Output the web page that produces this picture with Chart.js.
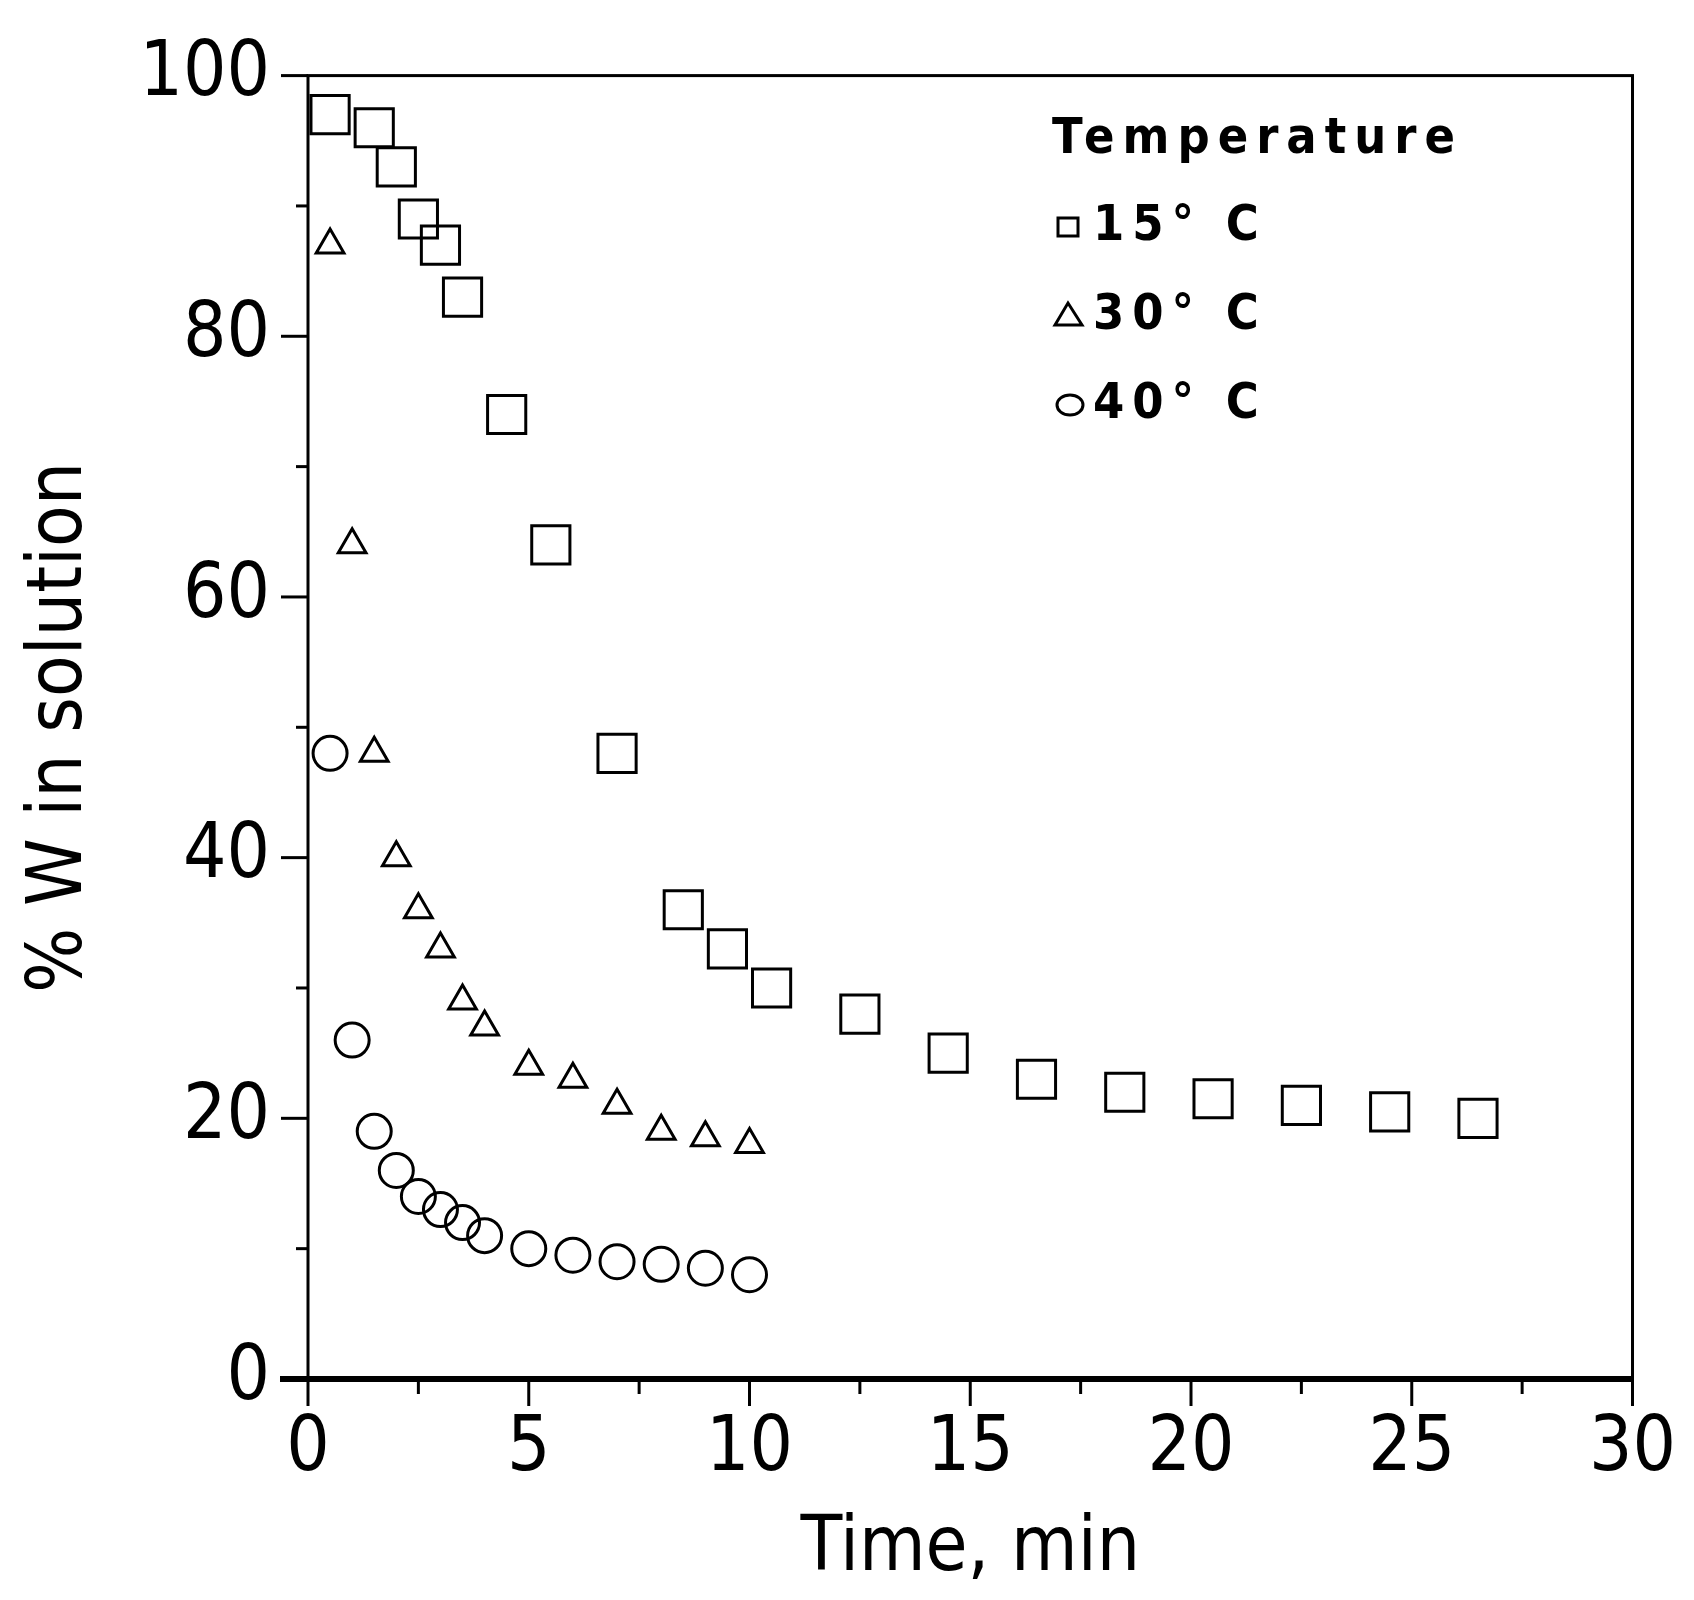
<!DOCTYPE html><html><head><style>html,body{margin:0;background:#fff}</style>
<script src="https://cdn.jsdelivr.net/npm/chart.js@4/dist/chart.umd.min.js"></script></head><body>
<canvas id="c" width="1694" height="1600" style="width:1694px;height:1600px"></canvas>
<script>
const t15=[0.5,1.5,2,2.5,3,3.5,4.5,5.5,7,8.5,9.5,10.5,12.5,14.5,16.5,18.5,20.5,22.5,24.5,26.5];
const v15=[97,96,93,89,87,83,74,64,48,36,33,30,28,25,23,22,21.5,21,20.5,20];
const t30=[0.5,1,1.5,2,2.5,3,3.5,4,5,6,7,8,9,10];
const v30=[87,64,48,40,36,33,29,27,24,23,21,19,18.5,18];
const t40=[0.5,1,1.5,2,2.5,3,3.5,4,5,6,7,8,9,10];
const v40=[48,26,19,16,14,13,12,11,10,9.5,9,8.8,8.5,8];
const xTicks=[0,5,10,15,20,25,30];
const yTicks=[0,20,40,60,80,100];
const legendTitle='Temperature';
const legendLabels=['15° C','30° C','40° C'];
const FONT='"DejaVu Sans Condensed","DejaVu Sans",sans-serif';
const pts=(t,v)=>t.map((x,i)=>({x,y:v[i]}));
const ds=(d,style,r)=>({data:d,pointStyle:style,pointRadius:r,pointBorderColor:'#000',pointBackgroundColor:'transparent',pointBorderWidth:3,showLine:false});
const deco={id:'deco',afterDraw(ch){
 const c=ch.ctx,a=ch.chartArea,xs=ch.scales.x,ys=ch.scales.y;
 c.save();c.strokeStyle='#000';c.lineWidth=3;
 c.strokeRect(a.left,a.top,a.right-a.left,a.bottom-a.top);
 c.lineWidth=6;c.beginPath();c.moveTo(a.left-28,a.bottom);c.lineTo(a.right,a.bottom);c.stroke();
 c.lineWidth=3;
 for(let v=0;v<=30;v+=2.5){const p=xs.getPixelForValue(v);const L=(v%5===0)?27:15;c.beginPath();c.moveTo(p,a.bottom);c.lineTo(p,a.bottom+L);c.stroke();}
 for(let v=0;v<=100;v+=10){const p=ys.getPixelForValue(v);const L=(v%20===0)?27:12;c.beginPath();c.moveTo(a.left,p);c.lineTo(a.left-L,p);c.stroke();}
 c.fillStyle='#000';c.font='bold 50px '+FONT;c.textBaseline='middle';
 try{c.letterSpacing='8px';}catch(e){}
 c.fillText(legendTitle,1052,140);
 const ly=[227,316,405];
 legendLabels.forEach((s,i)=>{c.fillText(s,1093,ly[i]);});
 c.lineWidth=3;
 c.strokeRect(1058,218,20,18);
 c.beginPath();c.moveTo(1055,325);c.lineTo(1082,325);c.lineTo(1068,303);c.closePath();c.stroke();
 c.beginPath();c.ellipse(1070,405,13,10,0,0,Math.PI*2);c.stroke();
 c.restore();}};
new Chart(document.getElementById('c'),{type:'scatter',
 data:{datasets:[ds(pts(t15,v15),'rect',27),ds(pts(t30,v30),'triangle',16),ds(pts(t40,v40),'circle',17)]},
 options:{responsive:false,animation:false,layout:{padding:{top:32,right:43,left:12,bottom:0}},
 plugins:{legend:{display:false},tooltip:{enabled:false}},
 scales:{
  x:{type:'linear',min:0,max:30,afterBuildTicks:s=>{s.ticks=xTicks.map(v=>({value:v}))},
   grid:{display:false},border:{display:false},
   ticks:{color:'#000',font:{family:FONT,size:76},padding:18,maxRotation:0},
   title:{display:true,text:'Time, min',color:'#000',font:{family:FONT,size:76},padding:{top:30}},
   afterFit:s=>{s.height=221}},
  y:{type:'linear',min:0,max:100,afterBuildTicks:s=>{s.ticks=yTicks.map(v=>({value:v}))},
   grid:{display:false},border:{display:false},
   ticks:{color:'#000',font:{family:FONT,size:76},padding:30},
   title:{display:true,text:'% W in solution',color:'#000',font:{family:FONT,size:76},padding:{bottom:20}},
   afterFit:s=>{s.width=296}}}},
 plugins:[deco]});
</script></body></html>
